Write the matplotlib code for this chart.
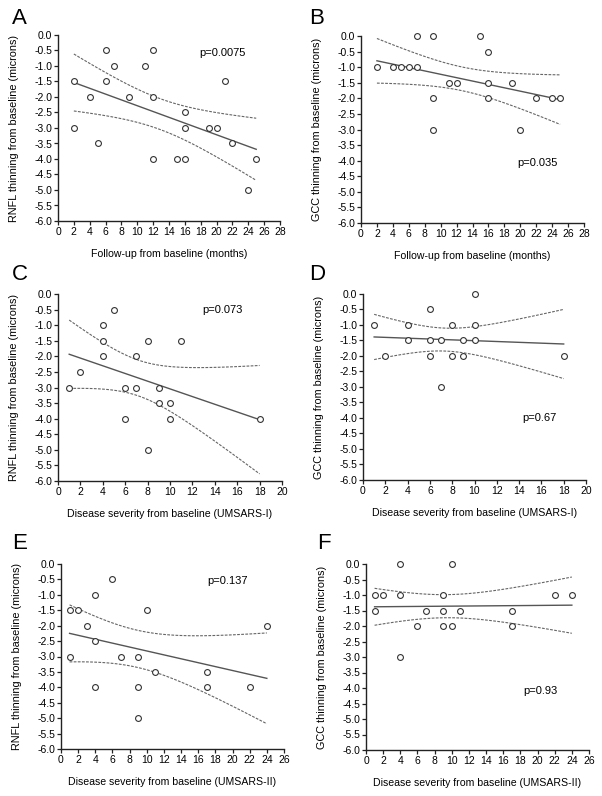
import numpy as np
import matplotlib
matplotlib.use("Agg")
import matplotlib.pyplot as plt

plt.rcParams['font.family'] = ['Liberation Sans', 'DejaVu Sans']

# panel A: RNFL vs follow-up (months)
a_x = [2, 2, 4, 5, 6, 6, 7, 9, 11, 12, 12, 12, 15, 16, 16, 16, 19, 20, 21, 22, 24, 25]
a_y = [-1.5, -3.0, -2.0, -3.5, -0.5, -1.5, -1.0, -2.0, -1.0, -0.5, -2.0, -4.0,
       -4.0, -2.5, -3.0, -4.0, -3.0, -3.0, -1.5, -3.5, -5.0, -4.0]
# panel B: GCC vs follow-up (months)
b_x = [2, 4, 5, 6, 7, 7, 9, 9, 9, 11, 12, 15, 16, 16, 16, 19, 20, 22, 24, 25]
b_y = [-1.0, -1.0, -1.0, -1.0, -1.0, 0.0, 0.0, -2.0, -3.0, -1.5, -1.5, 0.0,
       -0.5, -1.5, -2.0, -1.5, -3.0, -2.0, -2.0, -2.0]
# panel C: RNFL vs UMSARS-I
c_x = [1, 2, 4, 4, 4, 5, 6, 6, 7, 7, 8, 8, 9, 9, 10, 10, 11, 18]
c_y = [-3.0, -2.5, -1.0, -1.5, -2.0, -0.5, -3.0, -4.0, -2.0, -3.0, -1.5, -5.0,
       -3.0, -3.5, -3.5, -4.0, -1.5, -4.0]
# panel D: GCC vs UMSARS-I
d_x = [1, 2, 4, 4, 6, 6, 6, 7, 7, 8, 8, 9, 9, 10, 10, 10, 18]
d_y = [-1.0, -2.0, -1.0, -1.5, -0.5, -1.5, -2.0, -1.5, -3.0, -1.0, -2.0, -1.5,
       -2.0, 0.0, -1.0, -1.5, -2.0]
# panel E: RNFL vs UMSARS-II
e_x = [1, 1, 2, 3, 4, 4, 4, 6, 7, 9, 9, 9, 10, 11, 17, 17, 22, 24]
e_y = [-1.5, -3.0, -1.5, -2.0, -1.0, -2.5, -4.0, -0.5, -3.0, -3.0, -4.0, -5.0,
       -1.5, -3.5, -3.5, -4.0, -4.0, -2.0]
# panel F: GCC vs UMSARS-II
f_x = [1, 1, 2, 4, 4, 4, 6, 7, 9, 9, 9, 10, 10, 11, 17, 17, 22, 24]
f_y = [-1.0, -1.5, -1.0, 0.0, -1.0, -3.0, -2.0, -1.5, -1.0, -1.5, -2.0, 0.0,
       -2.0, -1.5, -1.5, -2.0, -1.0, -1.0]

letters = ['A', 'B', 'C', 'D', 'E', 'F']
p_text = ['p=0.0075', 'p=0.035', 'p=0.073', 'p=0.67', 'p=0.137', 'p=0.93']
ylabels = ['RNFL thinning from baseline (microns)', 'GCC thinning from baseline (microns)'] * 3
xlabels = ['Follow-up from baseline (months)'] * 2 + \
          ['Disease severity from baseline (UMSARS-I)'] * 2 + \
          ['Disease severity from baseline (UMSARS-II)'] * 2
xmax = [28, 28, 20, 20, 26, 26]
p_pos = [(17.8, -0.58), (19.6, -4.07), (12.9, -0.52), (14.3, -4.0), (17.0, -0.55), (18.3, -4.1)]

# t critical values (95%, two sided)
t_crit = {15: 2.131, 16: 2.120, 18: 2.101, 20: 2.086}

# axes rectangles in pixels: left, right, top, bottom
boxes = [(58, 280, 35, 221), (361, 584, 36, 223),
         (58, 282, 294, 481), (363, 586, 294, 480),
         (61, 284, 564, 749), (366, 589, 564, 750)]
letter_pos = [(12, 24), (309, 24), (12, 280), (309, 280), (12, 549), (317, 549)]

W, H = 602, 796
fig = plt.figure(figsize=(W / 100, H / 100), dpi=100)

data = [(a_x, a_y), (b_x, b_y), (c_x, c_y), (d_x, d_y), (e_x, e_y), (f_x, f_y)]
for i in range(6):
    l, r, t, b = boxes[i]
    ax = fig.add_axes([l / W, 1 - b / H, (r - l) / W, (b - t) / H])
    x = np.array(data[i][0], float)
    y = np.array(data[i][1], float)

    # linear fit + 95% confidence band
    n = len(x)
    slope, icpt = np.polyfit(x, y, 1)
    xs = np.linspace(x.min(), x.max(), 100)
    yf = slope * xs + icpt
    resid = y - (slope * x + icpt)
    s = np.sqrt(np.sum(resid ** 2) / (n - 2))
    sxx = np.sum((x - x.mean()) ** 2)
    half = t_crit[n - 2] * s * np.sqrt(1 / n + (xs - x.mean()) ** 2 / sxx)

    ax.plot(xs, yf, color='#555555', lw=1.0)
    ax.plot(xs, yf + half, color='#666666', lw=0.8, ls=(0, (2.5, 1.2)))
    ax.plot(xs, yf - half, color='#666666', lw=0.8, ls=(0, (2.5, 1.2)))
    ax.plot(x, y, 'o', ms=4.2, mfc='white', mec='#333333', mew=0.8, clip_on=False, zorder=3)

    ax.set_xlim(0, xmax[i])
    ax.set_ylim(-6, 0)
    ax.set_xticks(np.arange(0, xmax[i] + 1, 2))
    yt = np.arange(0, -6.01, -0.5)
    ax.set_yticks(yt)
    ax.set_yticklabels(['%.1f' % v for v in yt])
    for sp in ['top', 'right']:
        ax.spines[sp].set_visible(False)
    for sp in ['left', 'bottom']:
        ax.spines[sp].set_color('#222222')
        ax.spines[sp].set_linewidth(1.0)
    ax.tick_params(labelsize=7.5, length=3, width=0.9, color='#222222', pad=1)
    ax.set_ylabel(ylabels[i], fontsize=7.8, labelpad=11)
    ax.set_xlabel(xlabels[i], fontsize=7.6, labelpad=9)
    ax.text(p_pos[i][0], p_pos[i][1], p_text[i], fontsize=8, va='center')

    fig.text(letter_pos[i][0] / W, 1 - letter_pos[i][1] / H, letters[i], fontsize=16)

fig.savefig('out.png', dpi=100)
